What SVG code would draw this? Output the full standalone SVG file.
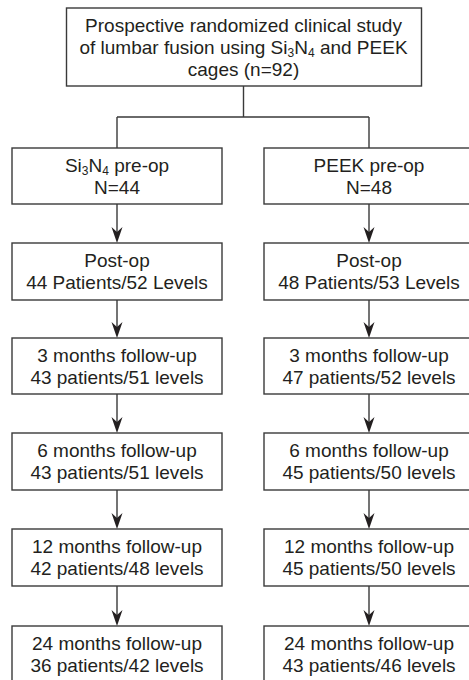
<svg xmlns="http://www.w3.org/2000/svg" width="469" height="680" viewBox="0 0 469 680">
<style>
.box{fill:#fff;stroke:#3a3a3a;stroke-width:1.4}
.t{font-family:"Liberation Sans",Arial,Helvetica,sans-serif;font-size:19px;fill:#231f20;text-anchor:middle}
.sub{font-size:12px}
.ln{fill:none;stroke:#3a3a3a;stroke-width:1.4}
</style>
<defs>
<marker id="ah" markerUnits="userSpaceOnUse" markerWidth="14" markerHeight="18" refX="0" refY="0" viewBox="-7 -17 14 18" orient="auto-start-reverse" overflow="visible">
<path d="M0,0 L-5.5,-16 L0,-11 L5.5,-16 Z" fill="#231f20" transform="rotate(-90)"/>
</marker>
</defs>
<rect width="469" height="680" fill="#fff"/>
<g id="connectors">
<path class="ln" d="M243.5,86 V117 M117,117 H369 M117,117 V148 M369,117 V148"/>
<g id="arrows" fill="#231f20">
<path class="ln" d="M117,204 V240 M369,204 V240 M117,300 V335 M369,300 V335 M117,394 V430 M369,394 V430 M117,490 V526 M369,490 V526 M117,586 V623 M369,586 V623"/>
<path d="M117,243 l-5.5,-16 l5.5,5 l5.5,-5 Z M369,243 l-5.5,-16 l5.5,5 l5.5,-5 Z M117,338 l-5.5,-16 l5.5,5 l5.5,-5 Z M369,338 l-5.5,-16 l5.5,5 l5.5,-5 Z M117,433 l-5.5,-16 l5.5,5 l5.5,-5 Z M369,433 l-5.5,-16 l5.5,5 l5.5,-5 Z M117,529 l-5.5,-16 l5.5,5 l5.5,-5 Z M369,529 l-5.5,-16 l5.5,5 l5.5,-5 Z M117,626 l-5.5,-16 l5.5,5 l5.5,-5 Z M369,626 l-5.5,-16 l5.5,5 l5.5,-5 Z"/>
</g>
</g>
<g id="study">
<rect class="box" x="66.5" y="8" width="355" height="78"/>
<text class="t" x="243.5" y="32">Prospective randomized clinical study</text>
<text class="t" x="243.5" y="54">of lumbar fusion using Si<tspan class="sub" dy="3">3</tspan><tspan dy="-3">N</tspan><tspan class="sub" dy="3">4</tspan><tspan dy="-3"> and PEEK</tspan></text>
<text class="t" x="243.5" y="76">cages (n=92)</text>
</g>
<g id="si-preop">
<rect class="box" x="12" y="148" width="210" height="56"/>
<text class="t" x="117" y="171.5">Si<tspan class="sub" dy="3">3</tspan><tspan dy="-3">N</tspan><tspan class="sub" dy="3">4</tspan><tspan dy="-3"> pre-op</tspan></text>
<text class="t" x="117" y="193.5">N=44</text>
</g>
<g id="peek-preop">
<rect class="box" x="264" y="148" width="210" height="56"/>
<text class="t" x="369" y="171.5">PEEK pre-op</text>
<text class="t" x="369" y="193.5">N=48</text>
</g>
<g id="si-postop">
<rect class="box" x="12" y="243" width="210" height="57"/>
<text class="t" x="117" y="267">Post-op</text>
<text class="t" x="117" y="289">44 Patients/52 Levels</text>
</g>
<g id="peek-postop">
<rect class="box" x="264" y="243" width="210" height="57"/>
<text class="t" x="369" y="267">Post-op</text>
<text class="t" x="369" y="289">48 Patients/53 Levels</text>
</g>
<g id="si-3m">
<rect class="box" x="12" y="338" width="210" height="56"/>
<text class="t" x="117" y="362">3 months follow-up</text>
<text class="t" x="117" y="384">43 patients/51 levels</text>
</g>
<g id="peek-3m">
<rect class="box" x="264" y="338" width="210" height="56"/>
<text class="t" x="369" y="362">3 months follow-up</text>
<text class="t" x="369" y="384">47 patients/52 levels</text>
</g>
<g id="si-6m">
<rect class="box" x="12" y="433" width="210" height="57"/>
<text class="t" x="117" y="457">6 months follow-up</text>
<text class="t" x="117" y="479">43 patients/51 levels</text>
</g>
<g id="peek-6m">
<rect class="box" x="264" y="433" width="210" height="57"/>
<text class="t" x="369" y="457">6 months follow-up</text>
<text class="t" x="369" y="479">45 patients/50 levels</text>
</g>
<g id="si-12m">
<rect class="box" x="12" y="529" width="210" height="57"/>
<text class="t" x="117" y="553">12 months follow-up</text>
<text class="t" x="117" y="575">42 patients/48 levels</text>
</g>
<g id="peek-12m">
<rect class="box" x="264" y="529" width="210" height="57"/>
<text class="t" x="369" y="553">12 months follow-up</text>
<text class="t" x="369" y="575">45 patients/50 levels</text>
</g>
<g id="si-24m">
<rect class="box" x="12" y="626" width="210" height="57"/>
<text class="t" x="117" y="650">24 months follow-up</text>
<text class="t" x="117" y="672">36 patients/42 levels</text>
</g>
<g id="peek-24m">
<rect class="box" x="264" y="626" width="210" height="57"/>
<text class="t" x="369" y="650">24 months follow-up</text>
<text class="t" x="369" y="672">43 patients/46 levels</text>
</g>
</svg>
